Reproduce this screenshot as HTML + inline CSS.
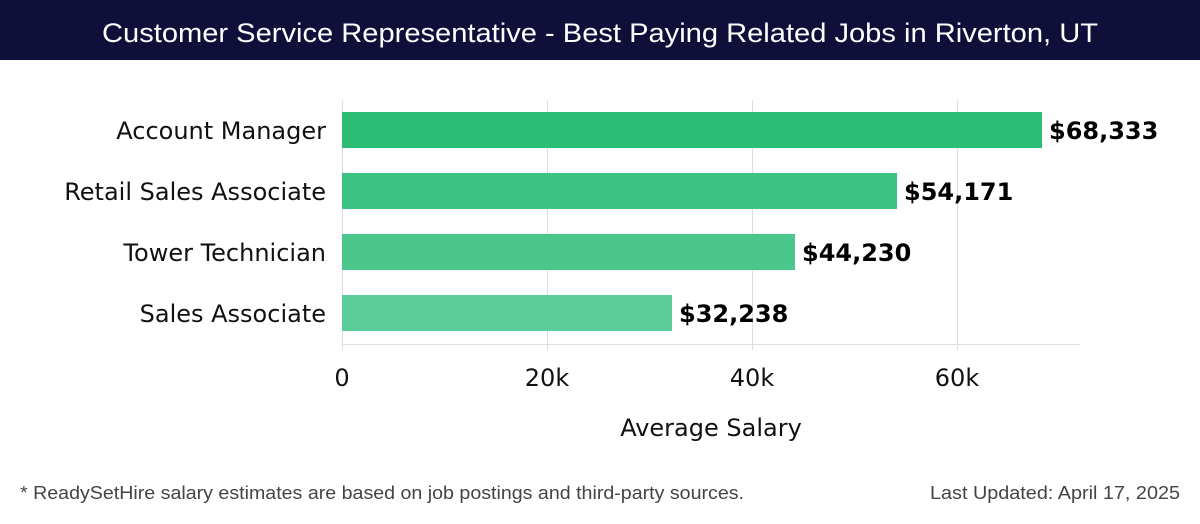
<!DOCTYPE html>
<html><head><meta charset="utf-8"><style>
body{margin:0;width:1200px;height:520px;background:#fff;overflow:hidden;font-family:"DejaVu Sans","Liberation Sans",sans-serif}
</style></head><body>
<svg width="1200" height="520" xmlns="http://www.w3.org/2000/svg" font-family="DejaVu Sans, Liberation Sans, sans-serif">
<rect x="0" y="0" width="1200" height="60" fill="#0f0f3a"/>
<text x="102" y="42" fill="#fff" font-size="27" font-family="Liberation Sans, sans-serif" textLength="996" lengthAdjust="spacingAndGlyphs">Customer Service Representative - Best Paying Related Jobs in Riverton, UT</text>
<g stroke="#dddddd" stroke-width="1">
<line x1="342.5" y1="100" x2="342.5" y2="350"/>
<line x1="547.5" y1="100" x2="547.5" y2="350"/>
<line x1="752.5" y1="100" x2="752.5" y2="350"/>
<line x1="957.5" y1="100" x2="957.5" y2="350"/>
<line x1="342" y1="344.5" x2="1080" y2="344.5"/>
</g>
<rect x="342" y="112" width="700" height="36" fill="#2bbd73"/>
<rect x="342" y="173" width="555" height="36" fill="#3cc383"/>
<rect x="342" y="234" width="453" height="36" fill="#4bc78c"/>
<rect x="342" y="295" width="330" height="36" fill="#5acc98"/>
<g font-size="24" fill="#111" text-anchor="end">
<text x="326" y="139">Account Manager</text>
<text x="326" y="200">Retail Sales Associate</text>
<text x="326" y="261">Tower Technician</text>
<text x="326" y="322">Sales Associate</text>
</g>
<g font-size="24" font-weight="bold" fill="#000">
<text x="1049" y="139">$68,333</text>
<text x="904" y="200">$54,171</text>
<text x="802" y="261">$44,230</text>
<text x="679" y="322">$32,238</text>
</g>
<g font-size="24" fill="#111" text-anchor="middle">
<text x="342" y="386">0</text>
<text x="547" y="386">20k</text>
<text x="752" y="386">40k</text>
<text x="957" y="386">60k</text>
<text x="711" y="436">Average Salary</text>
</g>
<text x="20" y="499" font-size="18" fill="#444" font-family="Liberation Sans, sans-serif" textLength="724" lengthAdjust="spacingAndGlyphs">* ReadySetHire salary estimates are based on job postings and third-party sources.</text>
<text x="930" y="499" font-size="18" fill="#444" font-family="Liberation Sans, sans-serif" textLength="250" lengthAdjust="spacingAndGlyphs">Last Updated: April 17, 2025</text>
</svg>
</body></html>
